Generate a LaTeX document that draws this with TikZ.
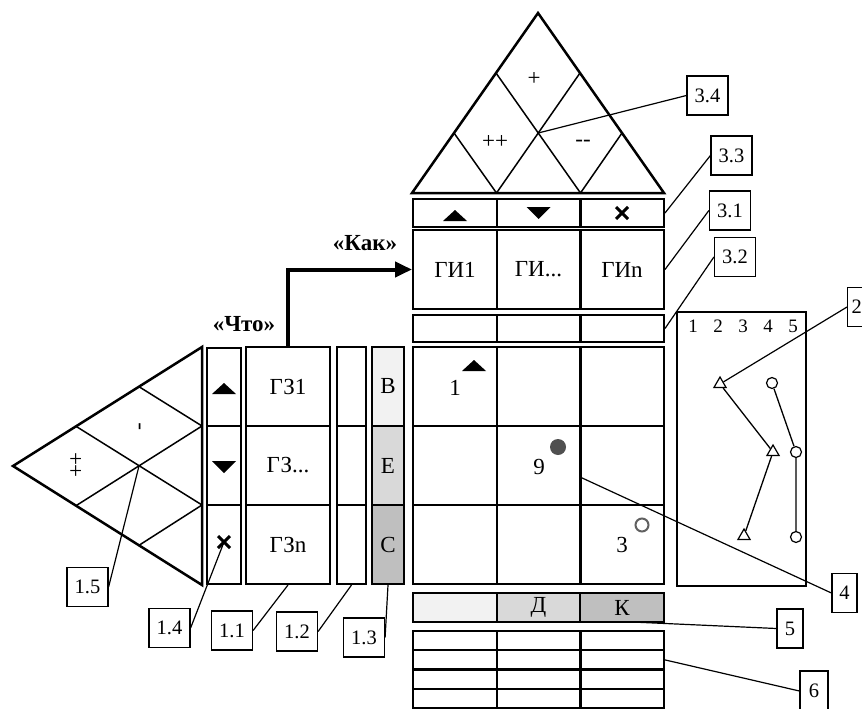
\documentclass[tikz,border=0pt]{standalone}
\usepackage{fontspec}
\setmainfont{Liberation Serif}
\usetikzlibrary{arrows.meta,shapes.geometric,calc}
\definecolor{fillA}{HTML}{F2F2F2}
\definecolor{fillB}{HTML}{D9D9D9}
\definecolor{fillC}{HTML}{BFBFBF}
\definecolor{dotgray}{HTML}{505050}
\definecolor{ringgray}{HTML}{606060}
\begin{document}
\begin{tikzpicture}[x=1pt,y=-1pt,
  cell/.style n args={2}{draw,line width=2pt,inner sep=0pt,minimum width=#1,minimum height=#2,font=\fontsize{23}{26}\selectfont},
  tag/.style={draw,line width=1.2pt,inner sep=0pt,minimum width=41,minimum height=39,font=\fontsize{20.5}{23}\selectfont},
  tagn/.style={tag,minimum width=25},
  lead/.style={line width=1.2pt},
  txt/.style={inner sep=0pt,font=\fontsize{23}{26}\selectfont},
  num/.style={inner sep=0pt,font=\fontsize{19}{21}\selectfont},
  trimark/.style={regular polygon,regular polygon sides=3,draw,fill=white,line width=1.2pt,minimum size=14,inner sep=0pt},
  circmark/.style={circle,draw,fill=white,line width=1.2pt,minimum size=11,inner sep=0pt},
  uptri/.pic={\fill (-12,5) -- (12,5) -- (0,-6) -- cycle;},
  dntri/.pic={\fill (-12,-6) -- (12,-6) -- (0,6) -- cycle;},
  xmark/.pic={\draw[line width=3pt] (-6,-6) -- (6,6) (-6,6) -- (6,-6);}
]
\useasboundingbox (0,0) rectangle (862,709);

% ---------- roof ----------
\coordinate (A) at (538,13);
\coordinate (L0) at (412,193);
\coordinate (R0) at (664,193);
\coordinate (B1) at (496.5,193);
\coordinate (B2) at (580.5,193);
\coordinate (L1) at (454,133);
\coordinate (L2) at (496,73);
\coordinate (R1) at (622,133);
\coordinate (R2) at (580,73);
\coordinate (C) at (538.25,133);
\draw[line width=2.5pt] (L0) -- (A) -- (R0) -- cycle;
\draw[line width=1.5pt] (B1) -- (L1) (B1) -- (R2) (B2) -- (L2) (B2) -- (R1);
\node[txt] (rp) at (534,79) {+};
\node[txt] (rpp) at (495,142) {++};
\node[txt] (rmm) at (583,143) {{-}{-}};

% ---------- top rows ----------
\node[cell={84}{28}] (s1) at (455,213) {};
\node[cell={84}{28}] (s2) at (538.5,213) {};
\node[cell={84}{28}] (s3) at (622,213) {};
\pic at ($(s1.center)+(0,3)$) {uptri};
\pic at (s2.center) {dntri};
\pic at (s3.center) {xmark};

\node[cell={84}{79}] (gi1) at (455,269.5) {ГИ1};
\node[cell={84}{79}] (gi2) at (538.5,269.5) {ГИ...};
\node[cell={84}{79}] (gi3) at (622,269.5) {ГИn};

\node[cell={84}{27}] (r1) at (455,328.5) {};
\node[cell={84}{27}] (r2) at (538.5,328.5) {};
\node[cell={84}{27}] (r3) at (622,328.5) {};

% ---------- matrix ----------
\node[cell={84}{79}] (m11) at (455,386.5) {};
\node[cell={84}{79}] (m12) at (538.5,386.5) {};
\node[cell={84}{79}] (m13) at (622,386.5) {};
\node[cell={84}{79}] (m21) at (455,465.5) {};
\node[cell={84}{79}] (m22) at (538.5,465.5) {};
\node[cell={84}{79}] (m23) at (622,465.5) {};
\node[cell={84}{79}] (m31) at (455,544.5) {};
\node[cell={84}{79}] (m32) at (538.5,544.5) {};
\node[cell={84}{79}] (m33) at (622,544.5) {};
\pic at (474,366) {uptri};
\node[txt] (q1) at (455,388) {1};
\node[circle,fill=dotgray,minimum size=16,inner sep=0pt] (dot) at (558,447) {};
\node[txt] (q9) at (539,467) {9};
\node[circle,draw=ringgray,line width=2pt,minimum size=13,inner sep=0pt] (ring) at (642,525) {};
\node[txt] (q3) at (622,545) {3};

% ---------- rows below ----------
\node[cell={84}{29},fill=fillA] (k1) at (455,607.5) {};
\node[cell={84}{29},fill=fillB] (k2) at (538.5,607.5) {Д};
\node[cell={84}{29},fill=fillC] (k3) at (622,607.5) {К};

\foreach \r/\y in {1/640.6,2/659.9,3/679.1,4/698.4}{
  \node[cell={84}{19.25}] (b\r1) at (455,\y) {};
  \node[cell={84}{19.25}] (b\r2) at (538.5,\y) {};
  \node[cell={84}{19.25}] (b\r3) at (622,\y) {};
}

% ---------- left columns ----------
\node[cell={34}{78}] (a1) at (224,387) {};
\node[cell={34}{79}] (a2) at (224,465.5) {};
\node[cell={34}{79}] (a3) at (224,544.5) {};
\pic at (224,389) {uptri};
\pic at (224,467) {dntri};
\coordinate (x3) at (224,542);
\pic at (x3) {xmark};

\node[cell={84}{79}] (g1) at (288,386.5) {ГЗ1};
\node[cell={84}{79}] (g2) at (288,465.5) {ГЗ...};
\node[cell={84}{79}] (g3) at (288,544.5) {ГЗn};

\node[cell={29}{79}] (e1) at (351.5,386.5) {};
\node[cell={29}{79}] (e2) at (351.5,465.5) {};
\node[cell={29}{79}] (e3) at (351.5,544.5) {};

\node[cell={32}{79},fill=fillA] (v1) at (388,386.5) {В};
\node[cell={32}{79},fill=fillB] (v2) at (388,465.5) {Е};
\node[cell={32}{79},fill=fillC] (v3) at (388,544.5) {С};

% ---------- left triangle ----------
\coordinate (LA) at (13,466);
\coordinate (LT) at (202,347);
\coordinate (LB) at (202,585);
\coordinate (D1) at (202,426);
\coordinate (D2) at (202,505);
\coordinate (P1) at (76,426.3);
\coordinate (P2) at (139,386.7);
\coordinate (Q1) at (76,505.7);
\coordinate (Q2) at (139,545.3);
\coordinate (LC) at (139,466);
\draw[line width=2.5pt] (LA) -- (LT) -- (LB) -- cycle;
\draw[line width=1.5pt] (P1) -- (D2) (P2) -- (D1) (Q1) -- (D1) (Q2) -- (D2);
\node[txt,rotate=90] (lpp) at (77,465) {++};
\node[txt,rotate=90] (lm) at (142,427) {-};

% ---------- arrow and headings ----------
\draw[line width=4pt,-{Triangle[length=17pt,width=15pt]}] (g1.north) |- (gi1.west);
\node[txt,font=\bfseries\fontsize{23}{26}\selectfont] (kak) at (365,243) {«Как»};
\node[txt,font=\bfseries\fontsize{23}{26}\selectfont] (chto) at (244,324) {«Что»};

% ---------- chart ----------
\node[draw,line width=2pt,minimum width=129,minimum height=274,inner sep=0pt] (chart) at (741.5,449) {};
\node[num] (h1) at (693,326) {1};
\node[num] (h2) at (718,326) {2};
\node[num] (h3) at (743,326) {3};
\node[num] (h4) at (768,326) {4};
\node[num] (h5) at (793,326) {5};
\node[trimark] (tr1) at (720,384) {};
\node[trimark] (tr2) at (773,452) {};
\node[trimark] (tr3) at (744,536) {};
\node[circmark] (ci1) at (772,383) {};
\node[circmark] (ci2) at (796,452) {};
\node[circmark] (ci3) at (796,537) {};
\draw[line width=1.3pt] (tr1) -- (tr2) -- (tr3);
\draw[line width=1.3pt] (ci1) -- (ci2) -- (ci3);

% ---------- callouts ----------
\node[tag] (n34) at (707.5,95.5) {3.4};
\node[tag] (n33) at (731.5,155.5) {3.3};
\node[tag] (n31) at (730,210.5) {3.1};
\node[tag] (n32) at (735,257) {3.2};
\node[tag,minimum width=0pt,text width=20pt,align=left,inner xsep=4pt,anchor=west] (n2) at (847,307) {2};
\node[tagn] (n4) at (844.5,593) {4};
\node[tagn,minimum width=26] (n5) at (790,628.5) {5};
\node[tagn,minimum width=28,minimum height=40] (n6) at (814,691) {6};
\node[tag] (n15) at (87.5,587) {1.5};
\node[tag] (n14) at (169.5,628) {1.4};
\node[tag] (n11) at (232,630.5) {1.1};
\node[tag] (n12) at (297,631.5) {1.2};
\node[tag] (n13) at (364,637.5) {1.3};

\coordinate (c4) at (580,477);
\coordinate (c5) at (632,622);
\draw[lead] (C) -- (n34.west);
\draw[lead] (s3.east) -- (n33.west);
\draw[lead] (gi3.east) -- (n31.west);
\draw[lead] (r3.east) -- (n32.west);
\draw[lead] (tr1) -- (n2.west);
\draw[lead] (c4) -- (n4.west);
\draw[lead] (c5) -- (n5.west);
\draw[lead] (b23.east) -- (n6.west);
\draw[lead] (LC) -- (n15.east);
\draw[lead] (x3) -- (n14.east);
\draw[lead] (g3.south) -- (n11.east);
\draw[lead] (e3.south) -- (n12.east);
\draw[lead] (v3.south) -- (n13.east);
\end{tikzpicture}
\end{document}
